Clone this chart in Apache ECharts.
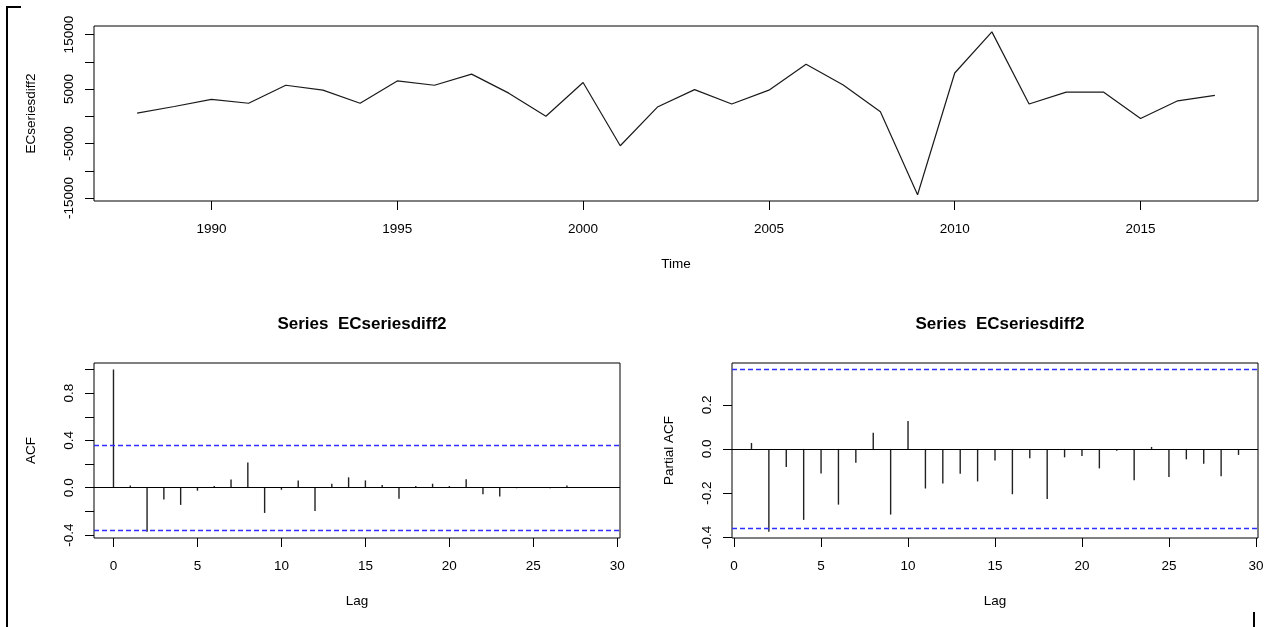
<!DOCTYPE html>
<html>
<head>
<meta charset="utf-8">
<script src="https://cdn.jsdelivr.net/npm/echarts@6/dist/echarts.min.js"></script>
<style>
  html, body { margin: 0; padding: 0; background: #fff; }
  #chart { width: 1275px; height: 627px; }
</style>
</head>
<body>
<div id="chart"></div>
<script>
// ---- Data ----
const years = [1988,1989,1990,1991,1992,1993,1994,1995,1996,1997,1998,1999,2000,2001,2002,
               2003,2004,2005,2006,2007,2008,2009,2010,2011,2012,2013,2014,2015,2016,2017];
const ecSeriesDiff2 = [600,1800,3100,2400,5700,4800,2400,6500,5700,7750,4250,0,6200,-5400,1700,
                       4900,2250,4800,9550,5750,850,-14400,7950,15500,2250,4450,4450,-400,2850,3850];

const acfLags = [0,1,2,3,4,5,6,7,8,9,10,11,12,13,14,15,16,17,18,19,20,21,22,23,24,25,26,27,28,29];
const acfValues = [1.0,0.02,-0.372,-0.10,-0.145,-0.025,0.014,0.07,0.213,-0.213,-0.017,0.062,-0.196,0.034,
                   0.088,0.062,0.023,-0.094,0.014,0.034,0.014,0.071,-0.054,-0.074,-0.004,0.003,-0.004,0.02,0.004,0.002];

const pacfLags = [1,2,3,4,5,6,7,8,9,10,11,12,13,14,15,16,17,18,19,20,21,22,23,24,25,26,27,28,29];
const pacfValues = [0.027,-0.375,-0.082,-0.321,-0.111,-0.252,-0.062,0.073,-0.297,0.127,-0.179,-0.156,-0.112,
                    -0.147,-0.052,-0.205,-0.042,-0.227,-0.038,-0.032,-0.088,-0.008,-0.142,0.009,-0.127,-0.047,-0.067,-0.123,-0.027];

const confLimit = 0.3578; // 1.96 / sqrt(30)

// tick values / tick labels
const topYTicks = [-15000,-10000,-5000,0,5000,10000,15000];
const topYLabels = [-15000,-5000,5000,15000];
const topXTicks = [1990,1995,2000,2005,2010,2015];
const lagTicks = [0,5,10,15,20,25,30];
const acfYTicks = [-0.4,-0.2,0,0.2,0.4,0.6,0.8,1.0];
const acfYLabels = [-0.4,0,0.4,0.8];
const pacfYTicks = [-0.4,-0.2,0,0.2];
const pacfYLabels = [-0.4,-0.2,0,0.2];

const mainTitle = 'Series  ECseriesdiff2';

// ---- Styling helpers ----
const FONT = '"Liberation Sans", Arial, sans-serif';
const labelStyle = { color: '#000', fontFamily: FONT, fontSize: 13.5 };
const nameStyle = { color: '#000', fontFamily: FONT, fontSize: 13.5 };

function xAxisCfg(gridIndex, min, max, ticks, name) {
  return {
    type: 'value', gridIndex, min, max, position: 'bottom',
    name, nameLocation: 'middle', nameGap: 56, nameTextStyle: nameStyle,
    axisLine: { show: false, onZero: false },
    axisTick: { show: true, inside: false, length: 9, customValues: ticks, lineStyle: { color: '#000', width: 1 } },
    axisLabel: { show: true, customValues: ticks, margin: 21, formatter: v => String(v), ...labelStyle },
    splitLine: { show: false }
  };
}
function yAxisCfg(gridIndex, min, max, ticks, labels, name, fmt) {
  return {
    type: 'value', gridIndex, min, max, position: 'left',
    name, nameLocation: 'middle', nameGap: 56, nameTextStyle: nameStyle,
    axisLine: { show: false, onZero: false },
    axisTick: { show: true, inside: false, length: 9, customValues: ticks, lineStyle: { color: '#000', width: 1 } },
    axisLabel: { show: true, customValues: labels, rotate: 90, margin: 18, formatter: fmt, ...labelStyle },
    splitLine: { show: false }
  };
}
const gridBase = { show: true, borderColor: '#000', borderWidth: 1, backgroundColor: 'transparent', containLabel: false };

function refLines() {
  return {
    silent: true, symbol: 'none', animation: false,
    label: { show: false },
    data: [
      { yAxis: confLimit, lineStyle: { color: '#2e2eff', type: [5, 3], width: 1.3 } },
      { yAxis: -confLimit, lineStyle: { color: '#2e2eff', type: [5, 3], width: 1.3 } },
      { yAxis: 0, lineStyle: { color: '#000', type: 'solid', width: 1 } }
    ]
  };
}

const chart = echarts.init(document.getElementById('chart'), null, { renderer: 'canvas' });
chart.setOption({
  animation: false,
  backgroundColor: '#fff',
  title: [
    { text: mainTitle, left: 357, top: 311, textAlign: 'center',
      textStyle: { fontFamily: FONT, fontWeight: 'bold', fontSize: 17, color: '#000' } },
    { text: mainTitle, left: 995, top: 311, textAlign: 'center',
      textStyle: { fontFamily: FONT, fontWeight: 'bold', fontSize: 17, color: '#000' } }
  ],
  grid: [
    { ...gridBase, left: 94, top: 26, width: 1164, height: 175 },
    { ...gridBase, left: 94, top: 363, width: 526, height: 175 },
    { ...gridBase, left: 732, top: 363, width: 526, height: 175 }
  ],
  xAxis: [
    xAxisCfg(0, 1986.84, 2018.16, topXTicks, 'Time'),
    xAxisCfg(1, -1.16, 30.16, lagTicks, 'Lag'),
    xAxisCfg(2, -0.12, 30.12, lagTicks, 'Lag')
  ],
  yAxis: [
    yAxisCfg(0, -15550, 16580, topYTicks, topYLabels, 'ECseriesdiff2', v => String(v)),
    yAxisCfg(1, -0.425, 1.055, acfYTicks, acfYLabels, 'ACF', v => v.toFixed(1)),
    yAxisCfg(2, -0.403, 0.389, pacfYTicks, pacfYLabels, 'Partial ACF', v => v.toFixed(1))
  ],
  series: [
    {
      type: 'line', xAxisIndex: 0, yAxisIndex: 0,
      data: years.map((y, i) => [y, ecSeriesDiff2[i]]),
      symbol: 'none', lineStyle: { color: '#1a1a1a', width: 1.2 }
    },
    {
      type: 'bar', xAxisIndex: 1, yAxisIndex: 1,
      data: acfLags.map((l, i) => [l, acfValues[i]]),
      barWidth: 1.4, itemStyle: { color: '#222' },
      markLine: refLines()
    },
    {
      type: 'bar', xAxisIndex: 2, yAxisIndex: 2,
      data: pacfLags.map((l, i) => [l, pacfValues[i]]),
      barWidth: 1.4, itemStyle: { color: '#222' },
      markLine: refLines()
    }
  ],
  graphic: [
    { type: 'line', shape: { x1: 7, y1: 6, x2: 7, y2: 627 }, style: { stroke: '#000', lineWidth: 2 } },
    { type: 'line', shape: { x1: 6, y1: 7, x2: 21, y2: 7 }, style: { stroke: '#000', lineWidth: 2 } },
    { type: 'line', shape: { x1: 1254, y1: 612, x2: 1254, y2: 627 }, style: { stroke: '#000', lineWidth: 2 } }
  ]
});
</script>
</body>
</html>
